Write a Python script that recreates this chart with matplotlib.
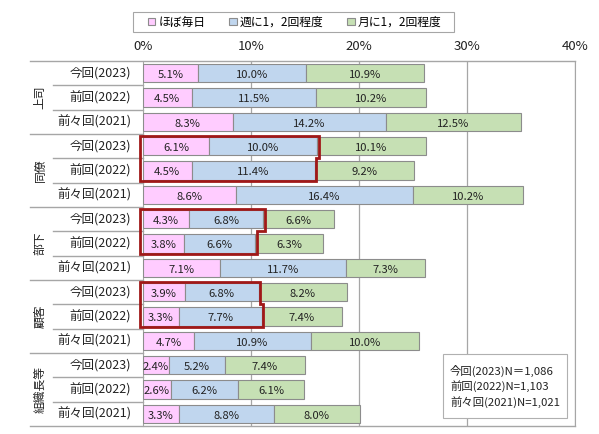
import matplotlib
matplotlib.use("Agg")
import matplotlib.pyplot as plt
from matplotlib.patches import Patch, Polygon, Rectangle
import matplotlib.transforms as mtransforms

plt.rcParams['font.family'] = ['Noto Sans CJK JP', 'DejaVu Sans']

groups = ['上司', '同僚', '部下', '顧客', '組織長等']
rounds = ['今回(2023)', '前回(2022)', '前々回(2021)']
series_names = ['ほぼ毎日', '週に1，2回程度', '月に1，2回程度']
daily = [5.1, 4.5, 8.3, 6.1, 4.5, 8.6, 4.3, 3.8, 7.1, 3.9, 3.3, 4.7, 2.4, 2.6, 3.3]
weekly = [10.0, 11.5, 14.2, 10.0, 11.4, 16.4, 6.8, 6.6, 11.7, 6.8, 7.7, 10.9, 5.2, 6.2, 8.8]
monthly = [10.9, 10.2, 12.5, 10.1, 9.2, 10.2, 6.6, 6.3, 7.3, 8.2, 7.4, 10.0, 7.4, 6.1, 8.0]
highlight_groups = [1, 2, 3]
x_ticks = [0, 10, 20, 30, 40]
n_notes = ['今回(2023)N＝1,086', '前回(2022)N=1,103', '前々回(2021)N=1,021']

colors = ['#ffccff', '#c0d6ee', '#c6e0b4']
edge = '#8c8c8c'
grid_c = '#a6a6a6'

W, H = 599, 434
fig = plt.figure(figsize=(W / 100, H / 100), dpi=100)
L, R, T, B = 143, 575, 61, 426
ax = fig.add_axes([L / W, 1 - B / H, (R - L) / W, (B - T) / H])

n = len(daily)
ys = list(range(n))
bh = 0.74
lefts = [0] * n
for vals, c in zip([daily, weekly, monthly], colors):
    ax.barh(ys, vals, left=lefts, height=bh, color=c, edgecolor=edge, linewidth=0.8, zorder=3)
    for y, v, l0 in zip(ys, vals, lefts):
        ax.text(l0 + v / 2, y + 0.08, f'{v:.1f}%', ha='center', va='center',
                fontsize=8.1, color='#222222', zorder=5)
    lefts = [a + b for a, b in zip(lefts, vals)]

ax.set_xlim(0, 40)
ax.set_ylim(n - 0.5, -0.5)
ax.set_xticks(x_ticks)
ax.set_xticklabels([f'{t}%' for t in x_ticks])
ax.xaxis.tick_top()
ax.tick_params(axis='x', length=0, labelsize=9.5, pad=6, colors='#222222')
ax.set_yticks([])
for t in x_ticks[1:]:
    ax.axvline(t, color=grid_c, lw=0.9, zorder=1)
for s in ['top', 'bottom']:
    ax.spines[s].set_visible(False)
ax.spines['left'].set_color(grid_c)
ax.spines['right'].set_color(grid_c)

trans = mtransforms.blended_transform_factory(ax.transAxes, ax.transData)
xg = (30 - L) / (R - L)
xr = (53 - L) / (R - L)
xl = (131 - L) / (R - L)
xgl = (40 - L) / (R - L)
for yb in [-0.5, n - 0.5]:
    ax.plot([xg, 1], [yb, yb], transform=trans, color=grid_c, lw=1.0, clip_on=False, zorder=2)
for g in range(len(groups)):
    base = g * 3
    if g > 0:
        ax.plot([xg, 0], [base - 0.5, base - 0.5], transform=trans, color=grid_c, lw=1.0, clip_on=False)
    for k in range(1, 3):
        ax.plot([xr, 0], [base + k - 0.5, base + k - 0.5], transform=trans, color=grid_c, lw=1.0, clip_on=False)
    for k, rname in enumerate(rounds):
        ax.text(xl, base + k, rname, transform=trans, ha='right', va='center', fontsize=9, color='#222222')
    ax.text(xgl, base + 1, groups[g], transform=trans, ha='center', va='center',
            rotation=90, fontsize=8.5, color='#222222')

# red highlight outlines
for g in highlight_groups:
    r1, r2 = g * 3, g * 3 + 1
    x1 = daily[r1] + weekly[r1]
    x2 = daily[r2] + weekly[r2]
    pad = 0.15
    top = r1 - bh / 2 - 0.06
    mid = r1 + 0.5
    bot = r2 + bh / 2 + 0.06
    x0 = -0.25
    poly = Polygon([(x0, top), (x1 + pad, top), (x1 + pad, mid), (x2 + pad, mid),
                    (x2 + pad, bot), (x0, bot)], closed=True, fill=False,
                   edgecolor='#a01818', lw=2.0, zorder=6, clip_on=False, joinstyle='miter')
    ax.add_patch(poly)

# N note box
fig.patches.append(Rectangle((443 / W, 1 - 418 / H), 124 / W, 64 / H, transform=fig.transFigure,
                             fc='white', ec='#b0b0b0', lw=0.8, zorder=9))
for i, s in enumerate(n_notes):
    fig.text(450 / W, 1 - (371 + 15.5 * i) / H, s, ha='left', va='center', fontsize=8.2,
             color='#222222', zorder=10)

# legend
fig.patches.append(Rectangle((133 / W, 1 - 32 / H), 321 / W, 20 / H, transform=fig.transFigure,
                             fc='white', ec=grid_c, lw=0.8, zorder=1))
handles = [Patch(facecolor=c, edgecolor=edge, linewidth=0.8) for c in colors]
leg = fig.legend(handles, series_names, loc='center', bbox_to_anchor=(295 / W, 1 - 22 / H),
                 ncol=3, fontsize=8.5, frameon=False,
                 handlelength=0.6, handleheight=0.6, handletextpad=0.3, columnspacing=2.0,
                 borderpad=0.2)

fig.savefig('out.png', dpi=100)
